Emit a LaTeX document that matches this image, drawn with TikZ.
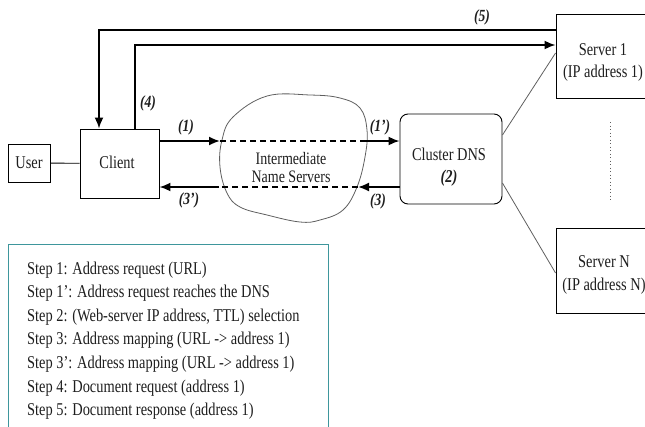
\documentclass[tikz,border=0pt]{standalone}
\usepackage{fontspec}
\setmainfont{Liberation Serif}[FakeStretch=0.8]
\usetikzlibrary{arrows.meta}
\definecolor{legendteal}{RGB}{62,150,156}
\definecolor{inkgray}{RGB}{95,95,95}
\definecolor{textink}{RGB}{30,30,30}
\begin{document}
\begin{tikzpicture}[x=1pt,y=-1pt,
  every node/.style={text=textink},
  box/.style={draw, line width=0.9pt, inner sep=0pt},
  txt/.style={font=\fontsize{18}{22}\selectfont, align=center, inner sep=0pt},
  flow/.style={line width=1.8pt, -{Latex[length=11pt,width=9pt]}},
  dashline/.style={line width=1.4pt, dash pattern=on 6pt off 4pt},
  thinlink/.style={draw=inkgray, line width=0.8pt},
  steplabel/.style={font=\fontsize{17}{19}\selectfont\bfseries\itshape, inner sep=0pt},
  legendline/.style={font=\fontsize{18}{20}\selectfont, anchor=base west, inner sep=0pt},
  ]
\useasboundingbox (0,0) rectangle (645,426);
\clip (0,0) rectangle (645,426);

% boxes
\node[box, minimum width=42pt, minimum height=38pt] (user) at (29,163) {};
\node[txt] (usertext) at (user) {User};
\node[box, minimum width=79pt, minimum height=69pt] (client) at (119.5,163.5) {};
\node[txt] (clienttext) at (117,162) {Client};
\node[box, rounded corners=8pt, minimum width=102pt, minimum height=90pt] (dns) at (451,159) {};
\node[txt] (dnstext) at (449,167.5) {Cluster DNS\\{\bfseries\itshape (2)}};
\node[box, minimum width=94pt, minimum height=84pt] (server1) at (603,56) {};
\node[txt] (server1text) at (603,62.5) {Server 1\\(IP address 1)};
\node[box, minimum width=96pt, minimum height=85pt] (serverN) at (604,270.5) {};
\node[txt, font=\fontsize{18}{23}\selectfont] (serverNtext) at (604,275) {Server N\\(IP address N)};

% cloud of intermediate name servers
\draw[inkgray, line width=0.8pt] plot[smooth cycle, tension=0.65] coordinates {
  (233,117) (267,96) (310,95) (340,98) (360,108) (367,130) (365,157)
  (357,187) (343,210) (320,220) (300,222) (267,215) (240,207) (227,193)
  (220,167) (222,140)};
\node[txt, font=\fontsize{17.5}{18}\selectfont] (ns) at (291,167.5) {Intermediate\\Name Servers};
\coordinate (cloudW1) at (220,141);
\coordinate (cloudE1) at (366,141);
\coordinate (cloudE3) at (358,187);
\coordinate (cloudW3) at (219,187);

% user -- client
\draw[line width=0.9pt] (user) -- (client);

% request and reply through the name servers
\draw[flow] (client.east |- cloudW1) -- (cloudW1);
\draw[dashline] (cloudW1) -- (cloudE1);
\draw[flow] (cloudE1) -- (dns.west |- cloudE1);
\draw[flow] (dns.west |- cloudE3) -- (cloudE3);
\draw[dashline] (cloudE3) -- (cloudW3);
\draw[flow] (cloudW3) -- (client.east |- cloudW3);

% document request / response
\coordinate (top5) at (99,30);
\coordinate (top4) at (135,45);
\draw[flow] (server1.west |- top5) -- (top5) -- (client.north -| top5);
\draw[flow] (client.north -| top4) -- (top4) -- (server1.west |- top4);

% cluster DNS to servers
\draw[thinlink] ([yshift=24pt]dns.east) -- ([yshift=3pt]server1.west);
\draw[thinlink] ([yshift=-24pt]dns.east) -- ([yshift=-2.5pt]serverN.west);
\coordinate (dotA) at (610,122);
\coordinate (dotB) at (610,202);
\draw[inkgray, line width=0.9pt, dash pattern=on 1pt off 2.5pt] (dotA) -- (dotB);

% step labels
\node[steplabel] (l5) at (482,17) {(5)};
\node[steplabel] (l4) at (148,103) {(4)};
\node[steplabel] (l1) at (186,127) {(1)};
\node[steplabel] (l3p) at (189,200) {(3’)};
\node[steplabel] (l1p) at (380,127) {(1’)};
\node[steplabel] (l3) at (378,201) {(3)};

% legend
\node[draw=legendteal, line width=1.2pt, minimum width=320pt, minimum height=200pt,
      anchor=north west, inner sep=0pt] (legend) at (8,244) {};
\foreach \t [count=\i] in {
  {Step 1: Address request (URL)},
  {Step 1’: Address request reaches the DNS},
  {Step 2: (Web-server IP address, TTL) selection},
  {Step 3: Address mapping (URL -> address 1)},
  {Step 3’: Address mapping (URL -> address 1)},
  {Step 4: Document request (address 1)},
  {Step 5: Document response (address 1)}}
  \node[legendline] (step\i) at (27,{274+23.6*(\i-1)}) {\t};
\end{tikzpicture}
\end{document}
